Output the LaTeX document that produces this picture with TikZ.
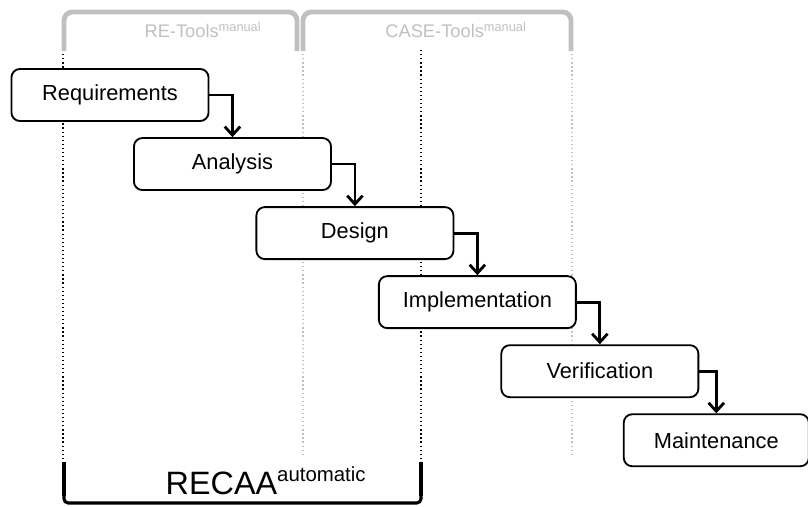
\documentclass[tikz,border=0pt]{standalone}
\usepackage{fontspec}
\setmainfont{Liberation Sans}
\usetikzlibrary{arrows.meta, positioning}

\definecolor{lightgrey}{RGB}{192,192,192}

\begin{document}
\begin{tikzpicture}
            [x=0.025cm, y=-0.025cm, node distance=0.38cm and -1.91cm,
            phase/.style={rectangle, rounded corners=6pt, draw=black, fill=white, line width=1.3pt,
              minimum width=4.925cm, minimum height=1.3cm, align=center,
              font=\fontsize{15.5}{18}\selectfont},
            flow/.style={-{Straight Barb[length=6pt,width=11pt]}, line width=2pt},
            toolbrace/.style={lightgrey, line width=3.5pt, rounded corners=6pt},
            toollabel/.style={text=lightgrey, font=\fontsize{13}{15}\selectfont},
            split/.style={dotted, line width=0.9pt}]

            \useasboundingbox (0,0) rectangle (808,506);

            % separators
            \draw[split] (63,50) -- (63,463);
            \draw[split] (421,50) -- (421,463);
            \draw[split, lightgrey] (303,50) -- (303,455);
            \draw[split, lightgrey] (572,50) -- (572,455);

            % phases
            \node[phase] (req) at (110,95) {Requirements};
            \node[phase] (ana) [below right = of req.south east] {Analysis};
            \node[phase] (des) [below right = of ana.south east] {Design};
            \node[phase] (imp) [below right = of des.south east] {Implementation};
            \node[phase] (ver) [below right = of imp.south east] {Verification};
            \node[phase,minimum width=4.625cm] (mai) [below right = of ver.south east] {Maintenance};

            \draw[flow] (req.east) -| (ana.north);
            \draw[flow] (ana.east) -| (des.north);
            \draw[flow] (des.east) -| (imp.north);
            \draw[flow] (imp.east) -| (ver.north);
            \draw[flow] (ver.east) -| (mai.north);

            % tool ranges
            \draw[toolbrace] (64,51) -- (64,12) -- (297,12) -- (297,51);
            \draw[toolbrace] (303,51) -- (303,12) -- (571,12) -- (571,51);
            \node[toollabel] (retools) at (203,30) {RE-Tools\textsuperscript{manual}};
            \node[toollabel] (casetools) at (456,30) {CASE-Tools\textsuperscript{manual}};

            \draw[line width=2.2pt, rounded corners=3pt] (64,462) -- (64,503) -- (421,503) -- (421,462);
            \draw[line width=3.4pt] (64,462) -- (64,496);
            \draw[line width=3.4pt] (421,462) -- (421,496);
            \node[font=\fontsize{23}{26}\selectfont] (recaa) at (266,481)
              {RECAA\textsuperscript{\fontsize{14.5}{16}\selectfont automatic}};
        \end{tikzpicture}
\end{document}
